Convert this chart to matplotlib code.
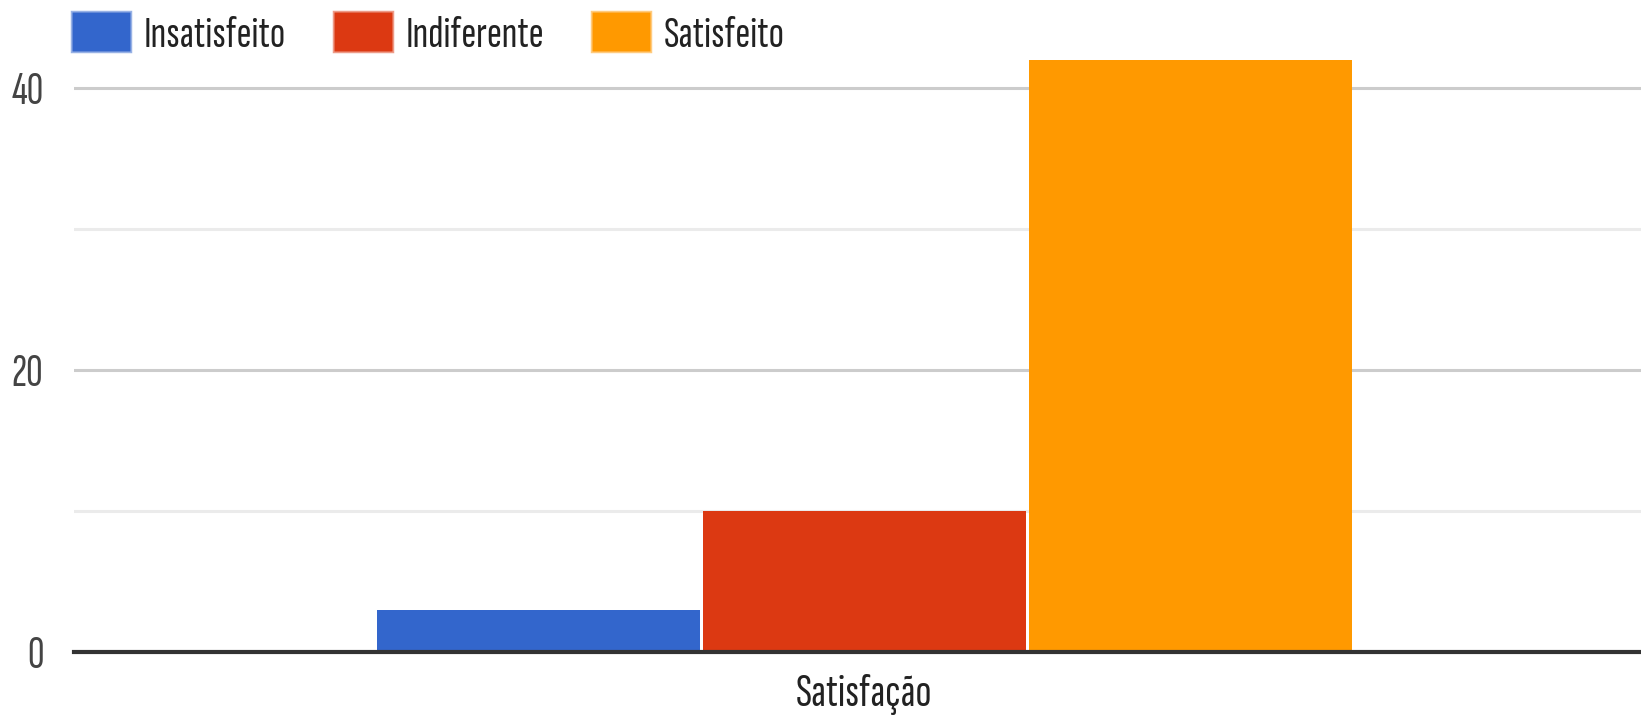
import matplotlib
matplotlib.use("Agg")
import matplotlib.pyplot as plt
from matplotlib.patches import Rectangle
from matplotlib.colors import to_rgba

# ---- data ----
category = "Satisfação"
series_names = ["Insatisfeito", "Indiferente", "Satisfeito"]
series_values = [3, 10, 42]
series_colors = ["#3366cc", "#dc3912", "#ff9900"]
y_ticks = [0, 20, 40]
y_minor = [10, 30]

plt.rcParams["font.family"] = ["Sofia Sans Extra Condensed", "Liberation Sans", "DejaVu Sans"]

W, H = 1641, 722
fig = plt.figure(figsize=(W / 100, H / 100), dpi=100)
px_per_unit = 14.09
ytop = 43
ax_left, ax_bottom_px = 74, 652
ax_h = ytop * px_per_unit
ax = fig.add_axes([ax_left / W, (H - ax_bottom_px) / H, (W - ax_left) / W, ax_h / H])

xs = [-1, 0, 1]
for x, v, c, n in zip(xs, series_values, series_colors, series_names):
    ax.bar(x, v, width=0.99, color=c, label=n, zorder=3)

ax.set_xlim(-2.425, 2.382)
ax.set_ylim(0, ytop)
for yv in y_ticks[1:]:
    ax.axhline(yv, color="#cccccc", lw=2.2, zorder=1)
for yv in y_minor:
    ax.axhline(yv, color="#ebebeb", lw=2.2, zorder=1)
ax.axhline(0, color="#333333", lw=3.0, zorder=4, clip_on=False)

for s in ax.spines.values():
    s.set_visible(False)
ax.set_yticks(y_ticks)
ax.set_yticklabels([str(t) for t in y_ticks])
ax.tick_params(axis="y", length=0, pad=22, labelsize=33, labelcolor="#444444")
ax.set_xticks([0])
ax.set_xticklabels([category])
ax.tick_params(axis="x", length=0, pad=16, labelsize=34, labelcolor="#222222")

fs = 32.5
handles = [Rectangle((0, 0), 1, 1, facecolor=c, edgecolor=to_rgba(c, 0.5), lw=2.5)
           for c in series_colors]
leg = fig.legend(handles, series_names, loc="upper left",
                 bbox_to_anchor=(72 / W, 1 - 12 / H), ncol=3, frameon=False,
                 fontsize=fs, handlelength=1.285, handleheight=0.95,
                 handletextpad=0.31, columnspacing=1.06, borderaxespad=0,
                 borderpad=0)
for t in leg.get_texts():
    t.set_color("#222222")

fig.savefig("out.png", dpi=100)
